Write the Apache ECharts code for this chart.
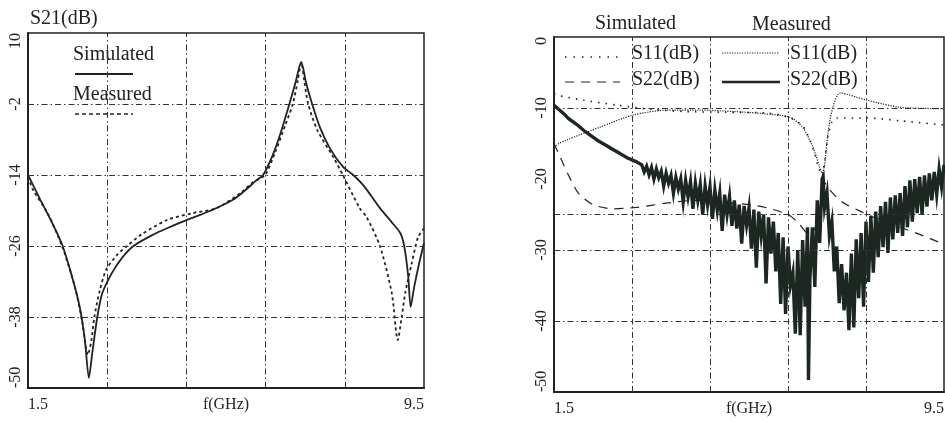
<!DOCTYPE html>
<html>
<head>
<meta charset="utf-8">
<script src="https://cdn.jsdelivr.net/npm/echarts@6/dist/echarts.min.js"></script>
<style>
html,body{margin:0;padding:0;background:#fff;}
#chart{width:945px;height:421px;}
</style>
</head>
<body>
<div id="chart"></div>
<script>
// ---------- Left chart: S21 ----------
const s21SimF  = [1.5, 1.75, 2.0, 2.2, 2.4, 2.55, 2.65, 2.73, 2.8, 2.9, 3.0, 3.2, 3.4, 3.63, 4.0, 4.31, 4.8, 5.2, 5.64, 5.9, 6.1, 6.25, 6.45, 6.6, 6.78, 6.9, 7.02, 7.12, 7.24, 7.4, 7.6, 7.86, 8.07, 8.3, 8.61, 8.85, 9.02, 9.1, 9.18, 9.23, 9.3, 9.4, 9.5];
const s21SimDb = [-14, -18.2, -22.3, -26, -31.5, -36.5, -42, -48.3, -44, -38, -34, -30.5, -28, -26, -24.2, -23, -21.3, -20, -18.2, -16.5, -15, -14, -10.5, -7, -2, 1.5, 5.1, 1.5, -2, -6, -9.5, -12.6, -14, -16, -19.6, -22, -23.8, -26, -31, -36.3, -33, -29, -25.5];
const s21MeasF  = [1.5, 1.6, 1.9, 2.2, 2.45, 2.6, 2.71, 2.78, 2.84, 2.95, 3.08, 3.3, 3.5, 3.8, 4.31, 4.8, 5.31, 5.8, 6.05, 6.29, 6.5, 6.7, 6.85, 6.95, 7.02, 7.08, 7.16, 7.35, 7.67, 7.86, 8.2, 8.34, 8.61, 8.85, 8.97, 9.05, 9.12, 9.25, 9.38, 9.5];
const s21MeasDb = [-14.3, -16.5, -20.5, -26.3, -33, -39, -44.4, -42, -38, -33.5, -30, -27.5, -26, -24, -21.6, -20.5, -19.6, -17, -15.2, -14, -10, -5.5, -2, 2, 5, 2, -2, -6.5, -11, -14, -19.6, -21.1, -26, -34, -41.9, -38, -34, -29, -24.5, -23];

// ---------- Right chart: S11 / S22 ----------
const s11SimF  = [1.5, 1.56, 2.1, 2.79, 3.5, 4.2, 5.0, 5.87, 6.34, 6.6, 6.75, 6.85, 6.92, 7.0, 7.06, 7.12, 7.2, 7.3, 7.92, 8.6, 9.5];
const s11SimDb = [-8.0, -8.2, -8.9, -9.6, -10.2, -10.5, -10.6, -10.7, -11.4, -12.5, -14.5, -16.5, -18.3, -19.5, -17, -14, -12, -11.4, -11.4, -11.8, -12.4];
const s11MeasF  = [1.5, 1.56, 1.6, 1.76, 2.44, 3.12, 3.82, 4.5, 5.2, 5.8, 6.34, 6.6, 6.81, 6.95, 7.0, 7.05, 7.12, 7.22, 7.37, 7.92, 8.6, 9.5];
const s11MeasDb = [-15.5, -15.2, -15.0, -14.5, -12.7, -11.0, -10.3, -10.3, -10.5, -10.8, -11.3, -12.7, -15.5, -18.3, -19.2, -18.0, -13.5, -9.9, -7.9, -8.9, -9.9, -10.1];
const s22SimF  = [1.5, 1.6, 1.8, 2.0, 2.3, 2.7, 3.2, 3.8, 4.4, 5.0, 5.6, 6.0, 6.35, 6.55, 6.75, 6.9, 7.0, 7.05, 7.15, 7.4, 7.8, 8.2, 8.6, 9.0, 9.5];
const s22SimDb = [-15.0, -16.5, -19.5, -22.0, -23.6, -24.2, -24.0, -23.4, -23.0, -23.3, -23.7, -24.3, -25.2, -26.5, -28.0, -26.0, -22.0, -20.5, -21.5, -23.2, -24.6, -25.8, -26.8, -27.8, -29.2];
const s22MeasF  = [1.5, 1.6, 1.7, 1.8, 1.9, 2.0, 2.1, 2.2, 2.3, 2.4, 2.5, 2.6, 2.7, 2.8, 2.9, 3.0, 3.1, 3.2,
  3.30, 3.35, 3.40, 3.45, 3.50, 3.55, 3.60, 3.65, 3.70, 3.75, 3.80, 3.85, 3.90, 3.95, 4.00, 4.05, 4.10, 4.15, 4.20, 4.25, 4.30, 4.35, 4.40, 4.45, 4.50, 4.55, 4.60, 4.65, 4.70, 4.75, 4.80, 4.85, 4.90, 4.95,
  5.00, 5.05, 5.10, 5.15, 5.20, 5.25, 5.30, 5.35, 5.40, 5.45, 5.50, 5.55, 5.60, 5.65, 5.70, 5.75, 5.80, 5.85, 5.90, 5.95, 6.00, 6.05, 6.10, 6.15, 6.20, 6.25, 6.30, 6.35, 6.40, 6.45, 6.50, 6.55, 6.60, 6.65, 6.70, 6.72, 6.75, 6.80, 6.85, 6.90, 6.95,
  7.00, 7.02, 7.05, 7.10, 7.15, 7.20, 7.25, 7.30, 7.35, 7.40, 7.45, 7.50, 7.55, 7.60, 7.65, 7.70, 7.75, 7.80, 7.85, 7.90, 7.95, 8.00, 8.05, 8.10, 8.15, 8.20, 8.25, 8.30, 8.35, 8.40, 8.45, 8.50, 8.55, 8.60, 8.65, 8.70, 8.75, 8.80, 8.85, 8.90, 8.95,
  9.00, 9.05, 9.10, 9.15, 9.20, 9.25, 9.30, 9.35, 9.40, 9.45, 9.50];
const s22MeasDb = [-9.6, -10.2, -10.8, -11.5, -12.0, -12.5, -13.1, -13.6, -14.1, -14.6, -15.0, -15.4, -15.8, -16.2, -16.6, -17.0, -17.3, -17.6,
  -18.0, -19.0, -18.2, -19.4, -18.4, -20.0, -18.6, -19.8, -18.9, -21.0, -19.2, -20.6, -19.5, -22.0, -19.8, -21.4, -20.0, -23.2, -20.2, -22.5, -20.4, -24.2, -20.6, -23.0, -20.8, -25.0, -21.0, -23.6, -21.1, -25.6, -21.6, -24.4, -22.0, -27.3,
  -22.2, -25.0, -22.5, -26.6, -23.0, -27.0, -23.6, -29.1, -23.8, -26.5, -24.1, -29.8, -24.3, -32.5, -24.6, -28.0, -25.0, -34.7, -25.4, -30.5, -26.0, -33.0, -27.6, -37.6, -28.2, -39.0, -29.5, -35.0, -33.2, -41.8, -30.0, -42.0, -28.6, -38.0, -26.8, -48.3, -34.0, -26.8, -35.2, -23.0, -29.0,
  -20.0, -19.7, -24.0, -22.0, -28.0, -26.0, -33.0, -29.5, -37.5, -32.0, -38.5, -33.2, -41.3, -30.5, -40.9, -28.5, -36.8, -27.6, -38.0, -26.0, -34.5, -25.2, -33.2, -24.6, -31.0, -23.8, -29.6, -23.2, -30.4, -22.6, -28.5, -22.3, -27.6, -22.0, -28.0, -21.0, -26.8, -20.2, -26.0, -20.0, -24.8,
  -19.7, -25.0, -19.5, -23.9, -19.2, -23.0, -19.0, -22.2, -18.6, -21.1, -18.0];

// ---------- Axes / grid values ----------
const xTickLabels = [1.5, 9.5];
const leftYTickLabels = [-50, -38, -26, -14, -2, 10];
const rightYTickLabels = [-50, -40, -30, -20, -10, 0];
const xGridLines = [3.1, 4.7, 6.3, 7.9];
const leftYGridLines = [-38, -26, -14, -2];
const rightYGridLines = [-10, -25, -30, -40];

const zip = (a, b) => a.map((v, i) => [v, b[i]]);
const FONT = '"Liberation Serif", "Times New Roman", serif';
const INK = '#222';
const GRID_STYLE = { color: '#333', width: 1, type: [6, 3, 1.5, 3] };

function gridMark(yVals) {
  return {
    silent: true, symbol: 'none', animation: false,
    label: { show: false },
    lineStyle: GRID_STYLE,
    emphasis: { disabled: true },
    data: xGridLines.map(v => ({ xAxis: v })).concat(yVals.map(v => ({ yAxis: v })))
  };
}

function xAxisCfg(gi) {
  return {
    gridIndex: gi, type: 'value', min: 1.5, max: 9.5,
    name: 'f(GHz)', nameLocation: 'middle', nameGap: 9, nameMoveOverlap: false,
    nameTextStyle: { fontFamily: FONT, fontSize: 16, color: INK, verticalAlign: 'top' },
    axisLine: { show: true, onZero: false, lineStyle: { color: INK, width: 2 } },
    axisTick: { show: false },
    splitLine: { show: false },
    axisLabel: { customValues: xTickLabels, fontFamily: FONT, fontSize: 16, color: INK, margin: 9,
      alignMinLabel: 'left', alignMaxLabel: 'right' }
  };
}
function yAxisCfg(gi, min, max, labels) {
  return {
    gridIndex: gi, type: 'value', min: min, max: max,
    axisLine: { show: true, onZero: false, lineStyle: { color: INK, width: 2 } },
    axisTick: { show: false },
    splitLine: { show: false },
    axisLabel: { customValues: labels, rotate: 90, fontFamily: FONT, fontSize: 16, color: INK, margin: 4,
      alignMinLabel: 'left', alignMaxLabel: 'right' }
  };
}

const legendFont = '20px ' + FONT;
const graphics = [
  // left legend
  { type: 'text', style: { x: 73, y: 55, text: 'Simulated', font: legendFont, fill: INK, verticalAlign: 'middle' } },
  { type: 'line', shape: { x1: 75, y1: 74, x2: 133, y2: 74 }, style: { stroke: INK, lineWidth: 2 } },
  { type: 'text', style: { x: 73, y: 95, text: 'Measured', font: legendFont, fill: INK, verticalAlign: 'middle' } },
  { type: 'line', shape: { x1: 75, y1: 114, x2: 133, y2: 114 }, style: { stroke: INK, lineWidth: 1.5, lineDash: [4, 3] } },
  // left title
  { type: 'text', style: { x: 30, y: 19, text: 'S21(dB)', font: legendFont, fill: INK, verticalAlign: 'middle' } },
  // right legend
  { type: 'text', style: { x: 595, y: 24, text: 'Simulated', font: legendFont, fill: INK, verticalAlign: 'middle' } },
  { type: 'text', style: { x: 752, y: 25, text: 'Measured', font: legendFont, fill: INK, verticalAlign: 'middle' } },
  { type: 'line', shape: { x1: 565, y1: 57, x2: 620, y2: 57 }, style: { stroke: INK, lineWidth: 1.5, lineDash: [1.5, 7] } },
  { type: 'text', style: { x: 632, y: 54, text: 'S11(dB)', font: legendFont, fill: INK, verticalAlign: 'middle' } },
  { type: 'line', shape: { x1: 565, y1: 82, x2: 620, y2: 82 }, style: { stroke: INK, lineWidth: 1.2, lineDash: [9, 7] } },
  { type: 'text', style: { x: 632, y: 80, text: 'S22(dB)', font: legendFont, fill: INK, verticalAlign: 'middle' } },
  { type: 'line', shape: { x1: 722, y1: 53, x2: 779, y2: 53 }, style: { stroke: INK, lineWidth: 1.2, lineDash: [1.2, 1.3] } },
  { type: 'text', style: { x: 790, y: 54, text: 'S11(dB)', font: legendFont, fill: INK, verticalAlign: 'middle' } },
  { type: 'line', shape: { x1: 722, y1: 82, x2: 780, y2: 82 }, style: { stroke: INK, lineWidth: 2.5 } },
  { type: 'text', style: { x: 790, y: 80, text: 'S22(dB)', font: legendFont, fill: INK, verticalAlign: 'middle' } }
];

const chart = echarts.init(document.getElementById('chart'), null, { renderer: 'canvas' });
chart.setOption({
  animation: false,
  backgroundColor: '#fff',
  grid: [
    { left: 28, top: 33, width: 396, height: 355, containLabel: false, outerBoundsMode: 'none',
      show: true, borderColor: INK, borderWidth: 1.5, backgroundColor: 'transparent' },
    { left: 554, top: 37, width: 390, height: 355, containLabel: false, outerBoundsMode: 'none',
      show: true, borderColor: INK, borderWidth: 1.5, backgroundColor: 'transparent' }
  ],
  xAxis: [xAxisCfg(0), xAxisCfg(1)],
  yAxis: [yAxisCfg(0, -50, 10, leftYTickLabels), yAxisCfg(1, -50, 0, rightYTickLabels)],
  graphic: graphics,
  series: [
    { name: 'grid-left', type: 'line', xAxisIndex: 0, yAxisIndex: 0, data: [], markLine: gridMark(leftYGridLines) },
    { name: 'grid-right', type: 'line', xAxisIndex: 1, yAxisIndex: 1, data: [], markLine: gridMark(rightYGridLines) },
    { name: 'S21 Simulated', type: 'line', xAxisIndex: 0, yAxisIndex: 0, data: zip(s21SimF, s21SimDb),
      showSymbol: false, smooth: 0.25, lineStyle: { color: INK, width: 1.8 } },
    { name: 'S21 Measured', type: 'line', xAxisIndex: 0, yAxisIndex: 0, data: zip(s21MeasF, s21MeasDb),
      showSymbol: false, smooth: 0.25, lineStyle: { color: INK, width: 1.8, type: [3, 3] } },
    { name: 'S22 Measured', type: 'line', xAxisIndex: 1, yAxisIndex: 1, data: zip(s22MeasF, s22MeasDb),
      showSymbol: false, smooth: false, lineStyle: { color: '#1c2722', width: 3.4, join: 'miter' } },
    { name: 'S22 Simulated', type: 'line', xAxisIndex: 1, yAxisIndex: 1, data: zip(s22SimF, s22SimDb),
      showSymbol: false, smooth: 0.25, lineStyle: { color: INK, width: 1.2, type: [9, 7] } },
    { name: 'S11 Simulated', type: 'line', xAxisIndex: 1, yAxisIndex: 1, data: zip(s11SimF, s11SimDb),
      showSymbol: false, smooth: 0.25, lineStyle: { color: INK, width: 1.6, type: [1.5, 6] } },
    { name: 'S11 Measured', type: 'line', xAxisIndex: 1, yAxisIndex: 1, data: zip(s11MeasF, s11MeasDb),
      showSymbol: false, smooth: 0.25, lineStyle: { color: INK, width: 1.2, type: [1.2, 1.3] } }
  ]
});
</script>
</body>
</html>
